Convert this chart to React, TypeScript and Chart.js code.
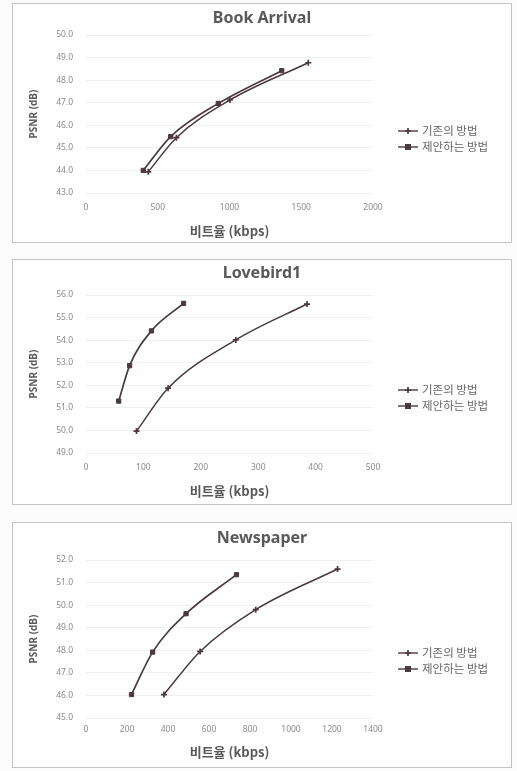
import React, { useEffect, useRef } from "react";
import { Chart, registerables } from "chart.js";

Chart.register(...registerables);

// ---------- text ----------
const EXISTING_LABEL = "기존의 방법";
const PROPOSED_LABEL = "제안하는 방법";
const X_TITLE = "비트율 (kbps)";
const Y_TITLE = "PSNR (dB)";

// ---------- Book Arrival ----------
const bookTitle = "Book Arrival";
const bookExistingRate = [434, 630, 1003, 1549];
const bookExistingPsnr = [43.94, 45.45, 47.12, 48.77];
const bookProposedRate = [399, 590, 922, 1364];
const bookProposedPsnr = [44.0, 45.5, 46.97, 48.42];
const bookXAxis = [0, 2000, 500]; // min, max, step
const bookYAxis = [43, 50, 1];

// ---------- Lovebird1 ----------
const loveTitle = "Lovebird1";
const loveExistingRate = [88, 143, 261, 385];
const loveExistingPsnr = [49.97, 51.87, 54.01, 55.6];
const loveProposedRate = [57, 76, 114, 170];
const loveProposedPsnr = [51.3, 52.87, 54.41, 55.63];
const loveXAxis = [0, 500, 100];
const loveYAxis = [49, 56, 1];

// ---------- Newspaper ----------
const newsTitle = "Newspaper";
const newsExistingRate = [380, 557, 828, 1227];
const newsExistingPsnr = [46.04, 47.95, 49.8, 51.6];
const newsProposedRate = [222, 325, 488, 734];
const newsProposedPsnr = [46.04, 47.92, 49.62, 51.35];
const newsXAxis = [0, 1400, 200];
const newsYAxis = [45, 52, 1];

// ---------- styling ----------
const LINE_COLOR = "#4b3a3d";
const TEXT_DARK = "#595959";
const TICK_COLOR = "#8c8c8c";
const FONT = "'Noto Sans', 'Noto Sans CJK KR', sans-serif";
const KFONT = "'Noto Sans CJK KR', 'Noto Sans', sans-serif";

const PANEL_LEFT = 12;
const PANEL_WIDTH = 500;
const TITLE_SIZE = 16;
const XTITLE_SIZE = 13;
const YTITLE_SIZE = 10;
const TICK_SIZE = 8.5;

const PANELS = [
  { top: 3, height: 240, titleCenter: 14, chartTop: 31, chartBottom: 189, tickOff: 15, xTitleOff: 38 },
  { top: 259, height: 246, titleCenter: 13, chartTop: 35, chartBottom: 193, tickOff: 15, xTitleOff: 38 },
  { top: 522, height: 246, titleCenter: 15, chartTop: 37, chartBottom: 195, tickOff: 12, xTitleOff: 34 },
];

function drawMarker(ctx: CanvasRenderingContext2D, style: string, r: number, x: number, y: number) {
  if (style === "rect") {
    ctx.fillRect(x - r, y - r, 2 * r, 2 * r);
  } else {
    ctx.beginPath();
    ctx.moveTo(x - r, y);
    ctx.lineTo(x + r, y);
    ctx.moveTo(x, y - r);
    ctx.lineTo(x, y + r);
    ctx.stroke();
  }
}

const sideLegend = {
  id: "sideLegend",
  afterDraw(chart: any, _args: any, opts: any) {
    const { ctx } = chart;
    const x = opts.x;
    const y0 = opts.y;
    const gap = opts.gap;
    chart.data.datasets.forEach((ds: any, i: number) => {
      const cy = y0 + i * gap;
      ctx.save();
      ctx.strokeStyle = ds.borderColor;
      ctx.lineWidth = 1.4;
      ctx.beginPath();
      ctx.moveTo(x, cy);
      ctx.lineTo(x + 20, cy);
      ctx.stroke();
      ctx.fillStyle = ds.backgroundColor;
      ctx.lineWidth = ds.pointBorderWidth || 1;
      drawMarker(ctx, ds.pointStyle, ds.pointRadius, x + 10, cy);
      ctx.fillStyle = "#666666";
      ctx.font = `11.5px ${KFONT}`;
      ctx.textBaseline = "middle";
      ctx.textAlign = "left";
      ctx.fillText(ds.label, x + 24, cy);
      ctx.restore();
    });
  },
};

function series(xs: number[], ys: number[]) {
  return xs.map((x, i) => ({ x, y: ys[i] }));
}

type PanelProps = {
  idx: number;
  title: string;
  exRate: number[];
  exPsnr: number[];
  prRate: number[];
  prPsnr: number[];
  xAxis: number[];
  yAxis: number[];
};

function Panel(p: PanelProps) {
  const ref = useRef<HTMLCanvasElement | null>(null);
  const L = PANELS[p.idx];
  const cw = PANEL_WIDTH - 2;
  const ch = L.height - 2;

  useEffect(() => {
    if (!ref.current) return;
    const titleLH = TITLE_SIZE * 1.2;
    const xTitleLH = XTITLE_SIZE * 1.2;
    const yTitleLH = YTITLE_SIZE * 1.2;
    const xH = ch - L.chartBottom;
    const chart = new Chart(ref.current, {
      type: "scatter",
      data: {
        datasets: [
          {
            label: EXISTING_LABEL,
            data: series(p.exRate, p.exPsnr),
            showLine: true,
            borderColor: LINE_COLOR,
            backgroundColor: LINE_COLOR,
            borderWidth: 1.5,
            pointStyle: "cross",
            pointRadius: 3,
            pointBorderWidth: 1.7,
            cubicInterpolationMode: "monotone",
          },
          {
            label: PROPOSED_LABEL,
            data: series(p.prRate, p.prPsnr),
            showLine: true,
            borderColor: LINE_COLOR,
            backgroundColor: LINE_COLOR,
            borderWidth: 1.7,
            pointStyle: "rect",
            pointRadius: 3,
            pointBorderWidth: 1,
            cubicInterpolationMode: "monotone",
          },
        ],
      },
      options: {
        responsive: false,
        animation: false,
        layout: { padding: 0 },
        plugins: {
          legend: { display: false },
          tooltip: { enabled: false },
          title: {
            display: true,
            text: p.title,
            color: TEXT_DARK,
            font: { family: FONT, size: TITLE_SIZE, weight: "bold" },
            padding: {
              top: L.titleCenter - titleLH / 2,
              bottom: L.chartTop - L.titleCenter - titleLH / 2,
            },
          },
          sideLegend: { x: 385, y: ch / 2 + 8, gap: 16 },
        } as any,
        scales: {
          x: {
            type: "linear",
            min: p.xAxis[0],
            max: p.xAxis[1],
            grid: { display: false, drawTicks: false },
            border: { display: false },
            ticks: {
              stepSize: p.xAxis[2],
              color: TICK_COLOR,
              font: { family: FONT, size: TICK_SIZE },
              padding: L.tickOff - 6,
              maxRotation: 0,
              callback: (v: any) => String(v),
            },
            title: {
              display: true,
              text: X_TITLE,
              color: TEXT_DARK,
              font: { family: KFONT, size: XTITLE_SIZE, weight: "bold" },
              padding: { top: 0, bottom: xH - L.xTitleOff - xTitleLH / 2 },
            },
            afterFit: (s: any) => {
              s.height = xH;
            },
          },
          y: {
            type: "linear",
            min: p.yAxis[0],
            max: p.yAxis[1],
            grid: { color: "#f1f1f1", drawTicks: false },
            border: { display: false },
            ticks: {
              stepSize: p.yAxis[2],
              color: TICK_COLOR,
              font: { family: FONT, size: TICK_SIZE },
              padding: 13,
              callback: (v: any) => Number(v).toFixed(1),
            },
            title: {
              display: true,
              text: Y_TITLE,
              color: TEXT_DARK,
              font: { family: FONT, size: YTITLE_SIZE, weight: "bold" },
              padding: { top: 21 - yTitleLH / 2, bottom: 0 },
            },
            afterFit: (s: any) => {
              s.width = 73;
            },
          },
          // empty right-hand axis that only reserves room for the legend
          legendRoom: {
            type: "linear",
            position: "right",
            display: true,
            grid: { display: false, drawTicks: false },
            border: { display: false },
            ticks: { display: false },
            afterFit: (s: any) => {
              s.width = 138;
            },
          },
        },
      } as any,
      plugins: [sideLegend],
    });
    return () => chart.destroy();
  }, []);

  return (
    <div
      style={{
        position: "absolute",
        left: PANEL_LEFT,
        top: L.top,
        width: PANEL_WIDTH,
        height: L.height,
        boxSizing: "border-box",
        border: "1px solid #c4c4c4",
        background: "#fefefe",
      }}
    >
      <canvas ref={ref} width={cw} height={ch} style={{ display: "block", width: cw, height: ch }} />
    </div>
  );
}

export default function App() {
  return (
    <div style={{ position: "absolute", left: 0, top: 0, width: 517, height: 771, background: "#fbfbfb" }}>
      <Panel
        idx={0}
        title={bookTitle}
        exRate={bookExistingRate}
        exPsnr={bookExistingPsnr}
        prRate={bookProposedRate}
        prPsnr={bookProposedPsnr}
        xAxis={bookXAxis}
        yAxis={bookYAxis}
      />
      <Panel
        idx={1}
        title={loveTitle}
        exRate={loveExistingRate}
        exPsnr={loveExistingPsnr}
        prRate={loveProposedRate}
        prPsnr={loveProposedPsnr}
        xAxis={loveXAxis}
        yAxis={loveYAxis}
      />
      <Panel
        idx={2}
        title={newsTitle}
        exRate={newsExistingRate}
        exPsnr={newsExistingPsnr}
        prRate={newsProposedRate}
        prPsnr={newsProposedPsnr}
        xAxis={newsXAxis}
        yAxis={newsYAxis}
      />
    </div>
  );
}
